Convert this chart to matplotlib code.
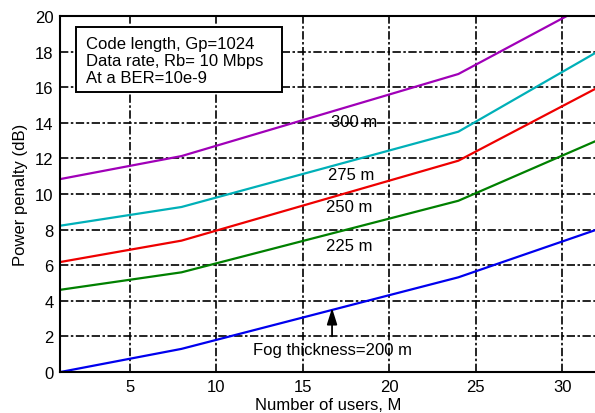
import numpy as np
import matplotlib.pyplot as plt
from matplotlib.patches import Rectangle

plt.rcParams['font.family'] = ['Liberation Sans', 'DejaVu Sans']

# number of users where the curves were evaluated
users = [1, 8, 24, 32]

# power penalty (dB) for each fog thickness
pp_200 = [0.0, 1.3, 5.32, 8.0]
pp_225 = [4.62, 5.6, 9.62, 13.0]
pp_250 = [6.18, 7.38, 11.87, 15.95]
pp_275 = [8.22, 9.27, 13.5, 17.97]
pp_300 = [10.84, 12.13, 16.74, 20.9]

fog_labels = ['Fog thickness=200 m', '225 m', '250 m', '275 m', '300 m']
x_ticks = [5, 10, 15, 20, 25, 30]
y_ticks = [0, 2, 4, 6, 8, 10, 12, 14, 16, 18, 20]

fig = plt.figure(figsize=(5.95, 4.14), dpi=100)
ax = fig.add_axes([0.1015, 0.099, 0.9015, 0.860])

ax.plot(users, pp_200, color='#0000ee', lw=1.6)
ax.plot(users, pp_225, color='#008000', lw=1.6)
ax.plot(users, pp_250, color='#ee0000', lw=1.6)
ax.plot(users, pp_275, color='#00b0b8', lw=1.6)
ax.plot(users, pp_300, color='#a000b8', lw=1.6)

ax.set_xlim(1, 32)
ax.set_ylim(0, 20)
ax.set_xticks(x_ticks)
ax.set_yticks(y_ticks)
ax.tick_params(labelsize=12, length=0, pad=5)
ax.grid(True, color='black', lw=1.2, linestyle=(0, (5, 1.5, 1.5, 1.5)))
for s in ax.spines.values():
    s.set_linewidth(1.5)

ax.set_xlabel('Number of users, M', fontsize=12, labelpad=2)
ax.set_ylabel('Power penalty (dB)', fontsize=12, labelpad=5)

# curve labels
ax.text(16.7, 1.25, fog_labels[0], fontsize=12, ha='center', va='center')
ax.text(17.7, 7.1, fog_labels[1], fontsize=12, ha='center', va='center')
ax.text(17.7, 9.3, fog_labels[2], fontsize=12, ha='center', va='center')
ax.text(17.8, 11.07, fog_labels[3], fontsize=12, ha='center', va='center')
ax.text(17.95, 14.1, fog_labels[4], fontsize=12, ha='center', va='center')
ax.annotate('', xy=(16.7, 3.75), xytext=(16.7, 1.85),
            arrowprops=dict(arrowstyle='-|>,head_width=0.22,head_length=0.7',
                            color='black', lw=1.3, mutation_scale=14))

# parameter box
ax.add_patch(Rectangle((0.030, 0.7865), 0.3825, 0.1825, transform=ax.transAxes,
                       fc='white', ec='black', lw=1.4, zorder=4))
ax.text(0.047, 0.945,
        'Code length, Gp=1024\nData rate, Rb= 10 Mbps\nAt a BER=10e-9',
        transform=ax.transAxes, fontsize=12, va='top', ha='left',
        linespacing=1.2, zorder=5)

fig.savefig('out.png', dpi=100)
